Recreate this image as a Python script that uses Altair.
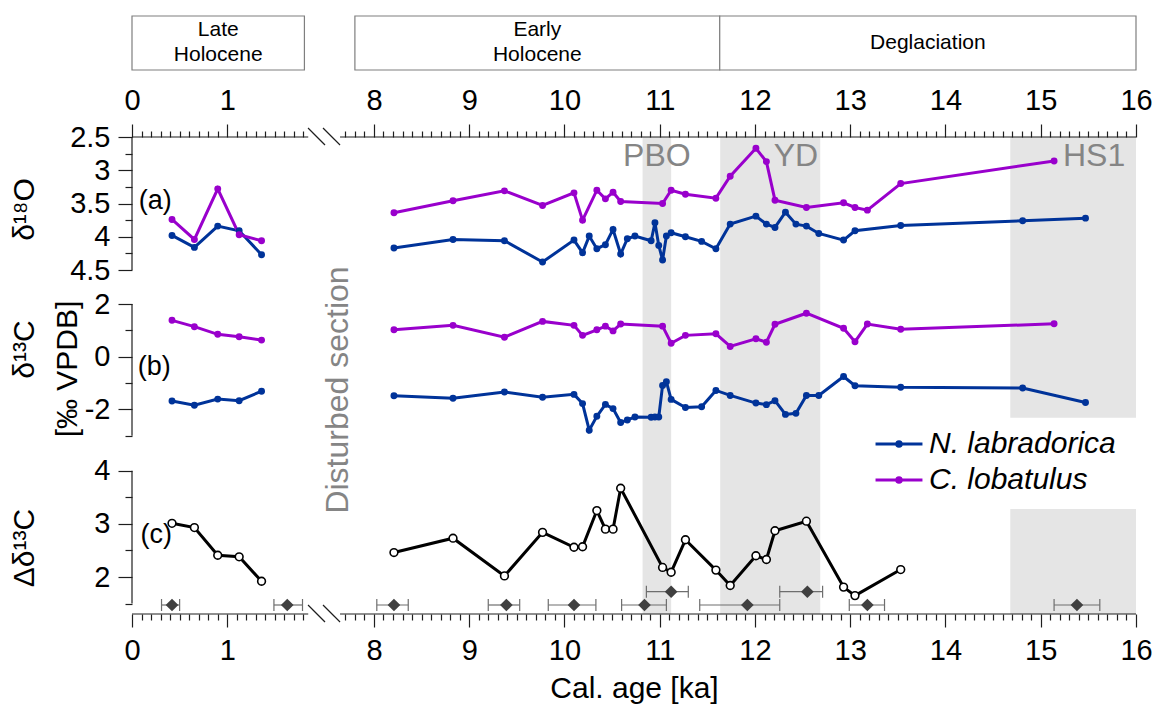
import altair as alt
import pandas as pd

FONT = "Liberation Sans"
BLUE = "#003399"
PURPLE = "#9900CC"
LABEL_GRAY = "#858585"
BAND_GRAY = "#E5E5E5"
BOX_GRAY = "#7F7F7F"
INK = "#1E1E1E"

# ---------------- data ----------------
species = ["N. labradorica", "C. lobatulus"]

# Late Holocene samples
late_age = [0.42, 0.655, 0.90, 1.125, 1.36]
late_d18O_nl = [3.98, 4.16, 3.84, 3.91, 4.27]
late_d18O_cl = [3.74, 4.04, 3.28, 3.97, 4.06]
late_d13C_nl = [-1.68, -1.84, -1.61, -1.67, -1.31]
late_d13C_cl = [1.38, 1.14, 0.85, 0.76, 0.63]
late_dd13C = [3.01, 2.93, 2.41, 2.38, 1.92]

# Early Holocene / deglaciation, N. labradorica
nl_age = [8.21, 8.83, 9.37, 9.77, 10.10, 10.19, 10.26, 10.34, 10.43, 10.51,
          10.59, 10.66, 10.74, 10.91, 10.95, 10.99, 11.03, 11.07, 11.12, 11.27,
          11.44, 11.59, 11.74, 12.01, 12.12, 12.21, 12.32, 12.43, 12.54, 12.67,
          12.93, 13.05, 13.53, 14.81, 15.47]
nl_d18O = [4.17, 4.04, 4.06, 4.38, 4.05, 4.24, 3.99, 4.18, 4.12, 3.89,
           4.26, 4.03, 3.99, 4.06, 3.79, 4.13, 4.35, 3.99, 3.94, 4.00,
           4.07, 4.18, 3.81, 3.69, 3.81, 3.86, 3.63, 3.81, 3.84, 3.95,
           4.05, 3.91, 3.83, 3.76, 3.72]
nl_d13C = [-1.48, -1.58, -1.34, -1.54, -1.43, -1.78, -2.79, -2.26, -1.81, -1.97,
           -2.50, -2.40, -2.29, -2.30, -2.29, -2.29, -1.09, -0.95, -1.62, -1.93,
           -1.90, -1.28, -1.47, -1.76, -1.82, -1.67, -2.19, -2.15, -1.47, -1.47,
           -0.75, -1.10, -1.16, -1.19, -1.74]

# Early Holocene / deglaciation, C. lobatulus
cl_age = [8.21, 8.83, 9.37, 9.77, 10.10, 10.19, 10.34, 10.43, 10.51, 10.59,
          11.03, 11.12, 11.27, 11.59, 11.74, 12.01, 12.12, 12.21, 12.54, 12.93,
          13.05, 13.18, 13.53, 15.14]
cl_d18O = [3.64, 3.46, 3.31, 3.53, 3.34, 3.75, 3.30, 3.43, 3.33, 3.47,
           3.50, 3.30, 3.36, 3.42, 3.09, 2.67, 2.87, 3.45, 3.56, 3.49,
           3.56, 3.60, 3.20, 2.86]
cl_d13C = [1.02, 1.19, 0.74, 1.34, 1.19, 0.81, 1.02, 1.16, 0.98, 1.24,
           1.16, 0.51, 0.81, 0.87, 0.39, 0.68, 0.55, 1.23, 1.65, 1.08,
           0.57, 1.24, 1.04, 1.25]

# Delta d13C (C. lobatulus - N. labradorica)
dd_age = [8.21, 8.83, 9.37, 9.77, 10.10, 10.19, 10.34, 10.43, 10.51, 10.59,
          11.03, 11.12, 11.27, 11.59, 11.74, 12.01, 12.12, 12.21, 12.54, 12.93,
          13.05, 13.53]
dd13C = [2.46, 2.73, 2.02, 2.84, 2.56, 2.57, 3.25, 2.90, 2.90, 3.67,
         2.18, 2.09, 2.70, 2.13, 1.84, 2.40, 2.33, 2.87, 3.05, 1.81,
         1.65, 2.14]

# Age control points with 2-sigma ranges
ctrl_age = [0.42, 1.63, 8.21, 9.39, 10.10, 10.84, 11.12, 11.92, 12.55, 13.18, 15.38]
ctrl_lo = [0.31, 1.49, 8.03, 9.20, 9.83, 10.60, 10.86, 11.42, 12.26, 12.99, 15.14]
ctrl_hi = [0.50, 1.79, 8.36, 9.53, 10.33, 11.07, 11.30, 12.26, 12.71, 13.36, 15.62]
ctrl_row = [0, 0, 0, 0, 0, 0, 1, 0, 1, 0, 0]

phase_name = ["Late\nHolocene", "Early\nHolocene", "Deglaciation"]
phase_start = [0.0, 7.80, 11.63]
phase_end = [1.81, 11.63, 16.0]

event_name = ["PBO", "YD", "HS1"]
event_start = [10.82, 11.635, 14.68]
event_end = [11.12, 12.685, 16.0]

x_tick_age = [i / 10 for i in range(0, 19)] + [i / 10 for i in range(77, 161)]

# ---------------- broken-axis transform ----------------
SHIFT = 5.46


def xp(a):
    return round(a, 4) if a < 5 else round(a - SHIFT, 4)


XMAX = xp(16.0)
W, HA, HB, HC = 1004, 150, 166, 161

iso_rows = []
for sp, seg, ages, d18, d13 in [
    (species[0], "late", late_age, late_d18O_nl, late_d13C_nl),
    (species[1], "late", late_age, late_d18O_cl, late_d13C_cl),
    (species[0], "main", nl_age, nl_d18O, nl_d13C),
    (species[1], "main", cl_age, cl_d18O, cl_d13C),
]:
    for a, o, c in zip(ages, d18, d13):
        iso_rows.append({"species": sp, "seg": seg, "age": a, "xp": xp(a), "d18O": o, "d13C": c})
iso = pd.DataFrame(iso_rows)

dd = pd.DataFrame({
    "seg": ["late"] * len(late_age) + ["main"] * len(dd_age),
    "age": late_age + dd_age,
    "dd": late_dd13C + dd13C,
})
dd["xp"] = dd["age"].map(xp)

ctrl = pd.DataFrame({"age": ctrl_age, "lo": ctrl_lo, "hi": ctrl_hi, "row": ctrl_row})
ctrl["xp"] = ctrl["age"].map(xp)
ctrl["xlo"] = ctrl["lo"].map(xp)
ctrl["xhi"] = ctrl["hi"].map(xp)

phases = pd.DataFrame({"name": phase_name,
                       "x1": [xp(a) for a in phase_start],
                       "x2": [xp(a) if a > 5 else a for a in phase_end]})
phases["xc"] = (phases["x1"] + phases["x2"]) / 2
phases["multi"] = phases["name"].str.contains("\n")

events = pd.DataFrame({"name": event_name,
                       "x1": [xp(a) for a in event_start],
                       "x2": [xp(a) for a in event_end]})

one = pd.DataFrame({"k": [0]})

# axis line pieces around the break (in plotted units)
axis_pieces = pd.DataFrame({"x1": [0.0, 2.184], "x2": [1.85, XMAX]})
slashes = pd.DataFrame({"x1": [1.848, 2.005], "x2": [2.026, 2.184]})

# ---------------- helpers ----------------
XSCALE = alt.Scale(domain=[0, XMAX], nice=False, zero=False)
AGE = f"(datum.value < 2 ? datum.value : datum.value + {SHIFT})"
X_MAJOR = f"abs({AGE} - round({AGE})) < 0.01"
TICK_FS = 29


def x_axis(orient, title=None):
    kw = dict(orient=orient, values=[xp(a) for a in x_tick_age],
              labelExpr=f"{X_MAJOR} ? '' + round({AGE}) : ''",
              tickSize={"condition": {"test": X_MAJOR, "value": 13}, "value": 6},
              domain=False, grid=False, tickColor=INK, tickWidth=1.2,
              labelFont=FONT, labelFontSize=TICK_FS, labelColor="black", labelPadding=9,
              labelFlush=False, labelOverlap=False, zindex=1)
    if title:
        kw.update(title=title, titleFont=FONT, titleFontSize=30, titleFontWeight="normal",
                  titleColor="black", titleBaseline="alphabetic", titleY=83)
    else:
        kw.update(title=None)
    return alt.Axis(**kw)


def y_axis(values, major, title, title_y):
    return alt.Axis(orient="left", values=values,
                    labelExpr=f"{major} ? '' + datum.value : ''",
                    tickSize={"condition": {"test": major, "value": 14}, "value": 7},
                    domain=False, grid=False, tickColor=INK, tickWidth=1.2,
                    labelFont=FONT, labelFontSize=TICK_FS, labelColor="black", labelPadding=8,
                    labelOverlap=False,
                    title=title, titleFont=FONT, titleFontSize=30, titleFontWeight="normal",
                    titleColor="black", titleAngle=270, titleAlign="center",
                    titleBaseline="alphabetic", titleX=-99, titleY=title_y, zindex=1)


def xf(field, axis):
    return alt.X(field, type="quantitative", scale=XSCALE, axis=axis)


def xd(val, axis):
    return alt.XDatum(val, scale=XSCALE, axis=axis)


def yf(field, scale, axis):
    return alt.Y(field, type="quantitative", scale=scale, axis=axis)


def yd(val, scale, axis):
    return alt.YDatum(val, scale=scale, axis=axis)


SYMBOL = "M-2.47,0L2.47,0M0.24,0A0.24,0.24,0,1,1,-0.24,0A0.24,0.24,0,1,1,0.24,0Z"
LEGEND = alt.Legend(orient="none", legendX=752, legendY=292, title=None,
                    labelFont=FONT, labelFontSize=30, labelFontStyle="italic",
                    labelColor="black", labelLimit=400, symbolType=SYMBOL, symbolSize=361,
                    symbolStrokeWidth=3, labelOffset=15, rowPadding=6, padding=0,
                    symbolOpacity=1)
COLOR = alt.Color("species:N", scale=alt.Scale(domain=species, range=[BLUE, PURPLE]),
                  legend=LEGEND)


def band_layer(axis, data=events):
    return alt.Chart(data).mark_rect(color=BAND_GRAY).encode(x=xf("x1", axis), x2="x2")


def axis_rules(axis, ypix):
    seg = alt.Chart(axis_pieces).mark_rule(color=INK, strokeWidth=1.2).encode(
        x=xf("x1", axis), x2="x2", y=alt.value(ypix))
    sl = alt.Chart(slashes).mark_rule(color=INK, strokeWidth=1.2).encode(
        x=xf("x1", axis), x2="x2", y=alt.value(ypix - 9), y2=alt.value(ypix + 8))
    return [seg, sl]


def y_line(lo, hi, ys, yax):
    return alt.Chart(one).mark_rule(color=INK, strokeWidth=1.2).encode(
        x=alt.value(0), y=yd(lo, ys, yax), y2=alt.datum(hi))


def label(text, x, y, xax, ys, yax, **kw):
    return alt.Chart(one).mark_text(text=text, font=FONT, **kw).encode(
        x=xd(x, xax), y=yd(y, ys, yax))


# ---------------- panel (a) ----------------
XA = x_axis("top")
YS_A = alt.Scale(domain=[2.5, 2.5 + HA / 66.5], reverse=True, nice=False, zero=False)
YAX_A = y_axis([2.5 + 0.25 * i for i in range(9)],
               "abs(datum.value*2 - round(datum.value*2)) < 0.01", "δ¹⁸O", 72)

bg = alt.Chart(one).mark_rect(fill="white").encode(
    x=alt.value(-132), x2=alt.value(1021), y=alt.value(-137), y2=alt.value(569))

layers_a = [bg, band_layer(XA)]
for name, xa in zip(event_name, [10.97, 12.43, 15.56]):
    layers_a.append(label(name, xp(xa), 2.936, XA, YS_A, YAX_A, fontSize=32,
                          color=LABEL_GRAY, align="center", baseline="alphabetic"))
layers_a += [
    alt.Chart(phases).mark_rect(fill="white", stroke=BOX_GRAY, strokeWidth=1.2).encode(
        x=xf("x1", XA), x2="x2", y=alt.value(-121), y2=alt.value(-67)),
    alt.Chart(phases[phases["multi"]]).mark_text(
        font=FONT, fontSize=21, lineBreak="\n", lineHeight=25, color="black",
        baseline="middle", align="center").encode(
        x=xf("xc", XA), y=alt.value(-107), text="name:N"),
    alt.Chart(phases[~phases["multi"]]).mark_text(
        font=FONT, fontSize=21, color="black", baseline="middle", align="center").encode(
        x=xf("xc", XA), y=alt.value(-94), text="name:N"),
]
layers_a += axis_rules(XA, 0)
layers_a += [
    y_line(2.5, 4.5, YS_A, YAX_A),
    alt.Chart(iso).mark_line(strokeWidth=3).encode(
        x=xf("xp", XA), y=yf("d18O", YS_A, YAX_A), color=COLOR, detail="seg:N", order="xp:Q"),
    alt.Chart(iso).mark_circle(size=48, opacity=1).encode(
        x=xf("xp", XA), y=yf("d18O", YS_A, YAX_A), color=COLOR),
    label("(a)", 0.07, 3.583, XA, YS_A, YAX_A, fontSize=27, color="black",
          align="left", baseline="alphabetic"),
]
panel_a = alt.layer(*layers_a).properties(width=W, height=HA)

# ---------------- panel (b) ----------------
XB = None
B_TOP = (356.7 - 287) / 26.35
B_BOT = -(453 - 356.7) / 26.35
YS_B = alt.Scale(domain=[B_BOT, B_TOP], nice=False, zero=False)
YAX_B = y_axis([-3, -2, -1, 0, 1, 2], "abs(datum.value/2 - round(datum.value/2)) < 0.01",
               "δ¹³C", 62)

layers_b = [
    band_layer(XB, events[events["name"] != "HS1"]),
    alt.Chart(events[events["name"] == "HS1"]).mark_rect(color=BAND_GRAY).encode(
        x=xf("x1", XB), x2="x2", y=yd(-2.315, YS_B, YAX_B), y2=alt.value(0)),
    y_line(-3, 2, YS_B, YAX_B),
    alt.Chart(one).mark_text(text="[‰ VPDB]", font=FONT, fontSize=30, angle=270,
                             align="center", baseline="alphabetic", color="black").encode(
        x=alt.value(-55), y=alt.value(82)),
    label("Disturbed section", 2.268, -1.264, XB, YS_B, YAX_B, fontSize=32,
          color=LABEL_GRAY, angle=270, align="center", baseline="alphabetic"),
    alt.Chart(iso).mark_line(strokeWidth=3).encode(
        x=xf("xp", XB), y=yf("d13C", YS_B, YAX_B), color=COLOR, detail="seg:N", order="xp:Q"),
    alt.Chart(iso).mark_circle(size=48, opacity=1).encode(
        x=xf("xp", XB), y=yf("d13C", YS_B, YAX_B), color=COLOR),
    label("(b)", 0.06, -0.695, XB, YS_B, YAX_B, fontSize=27, color="black",
          align="left", baseline="alphabetic"),
]
panel_b = alt.layer(*layers_b).properties(width=W, height=HB)

# ---------------- panel (c) ----------------
XC = x_axis("bottom", "Cal. age [ka]")
C_TOP = 2 + (577 - 453) / 53.15
C_BOT = 2 - (614 - 577) / 53.15
YS_C = alt.Scale(domain=[C_BOT, C_TOP], nice=False, zero=False)
YAX_C = y_axis([1.5, 2, 2.5, 3, 3.5, 4], "abs(datum.value - round(datum.value)) < 0.01",
               "Δδ¹³C", 94.5)

layers_c = [
    band_layer(XC, events[events["name"] != "HS1"]),
    alt.Chart(events[events["name"] == "HS1"]).mark_rect(color=BAND_GRAY).encode(
        x=xf("x1", XC), x2="x2", y=yd(3.279, YS_C, YAX_C), y2=alt.value(HC)),
    y_line(1.5, 4, YS_C, YAX_C),
]
layers_c += axis_rules(XC, HC)
for r, yv in [(0, 152), (1, 138.7)]:
    sub = ctrl[ctrl["row"] == r]
    layers_c += [
        alt.Chart(sub).mark_rule(color="#6E6E6E", strokeWidth=1.2).encode(
            x=xf("xlo", XC), x2="xhi", y=alt.value(yv)),
        alt.Chart(sub).mark_rule(color="#6E6E6E", strokeWidth=1.2).encode(
            x=xf("xlo", XC), y=alt.value(yv - 6), y2=alt.value(yv + 6)),
        alt.Chart(sub).mark_rule(color="#6E6E6E", strokeWidth=1.2).encode(
            x=xf("xhi", XC), y=alt.value(yv - 6), y2=alt.value(yv + 6)),
        alt.Chart(sub).mark_point(shape="diamond", filled=True, size=160, color="#404040",
                                  opacity=1).encode(x=xf("xp", XC), y=alt.value(yv)),
    ]
layers_c += [
    alt.Chart(dd).mark_line(strokeWidth=3, color="black").encode(
        x=xf("xp", XC), y=yf("dd", YS_C, YAX_C), detail="seg:N", order="xp:Q"),
    alt.Chart(dd).mark_point(shape="circle", filled=True, fill="white", stroke="black",
                             strokeWidth=1.6, size=60, opacity=1).encode(
        x=xf("xp", XC), y=yf("dd", YS_C, YAX_C)),
    label("(c)", 0.09, 2.64, XC, YS_C, YAX_C, fontSize=27, color="black",
          align="left", baseline="alphabetic"),
]
panel_c = alt.layer(*layers_c).properties(width=W, height=HC)

chart = (
    alt.vconcat(panel_a, panel_b, panel_c, spacing=0, bounds="flush")
    .resolve_scale(color="shared")
    .resolve_legend(color="shared")
    .properties(padding=0, background="white")
    .configure(font=FONT)
    .configure_view(stroke=None)
)

chart.save("out.html", embed_options={"renderer": "svg", "actions": False})
